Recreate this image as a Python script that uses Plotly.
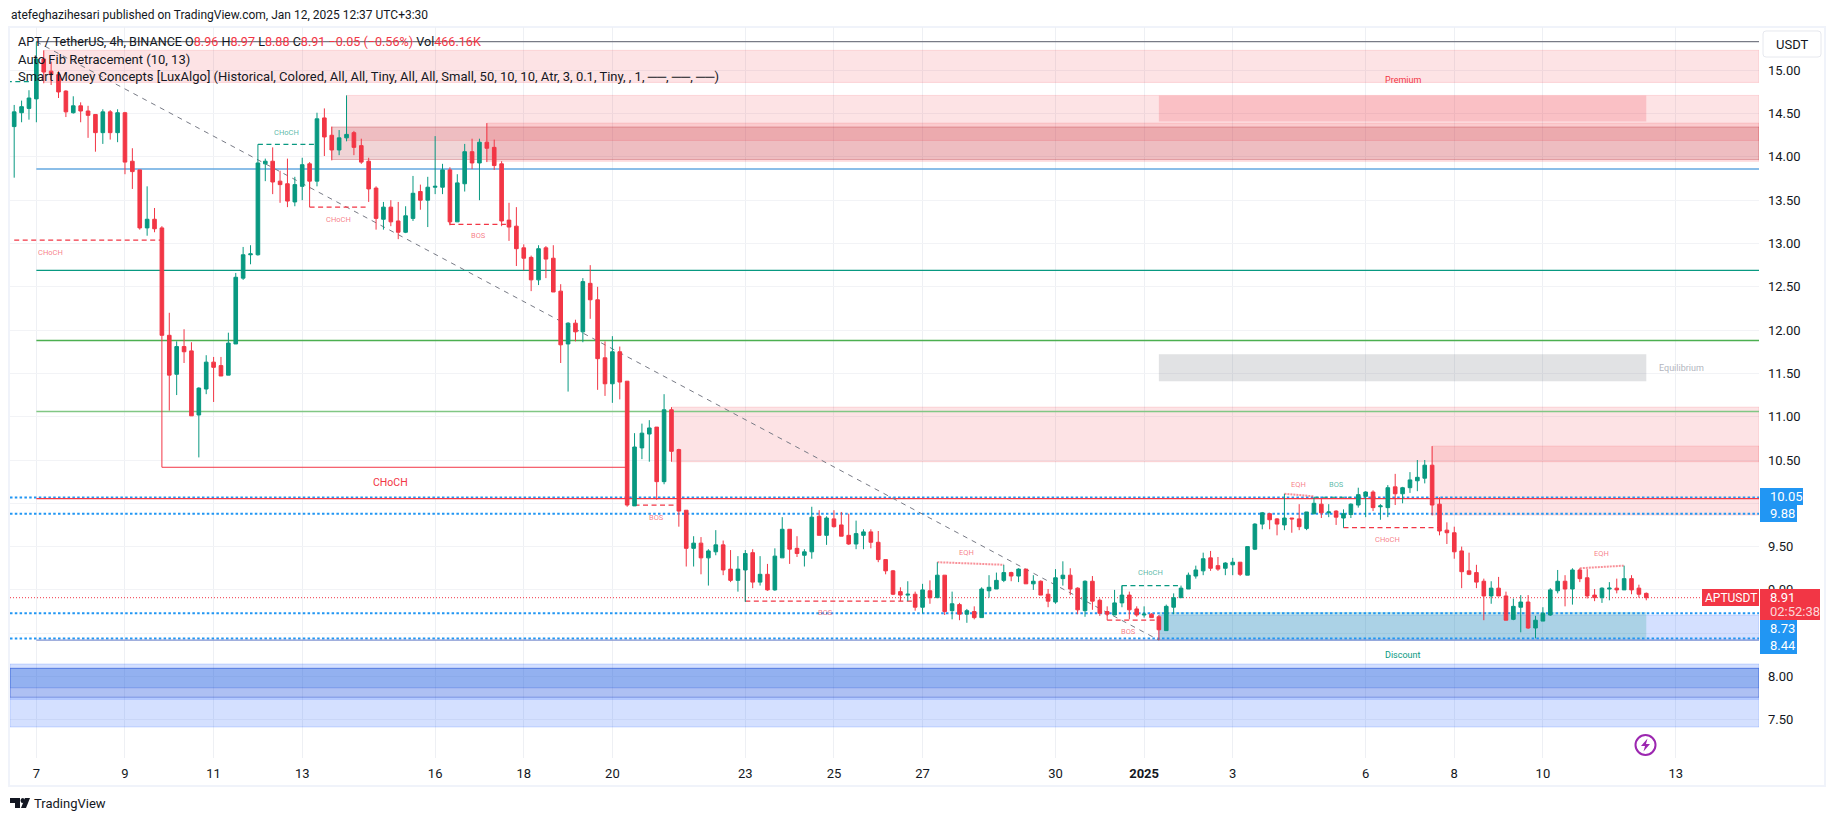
import pandas as pd
import plotly.graph_objects as go

opens = [14.35,14.51,14.56,14.67,15.13,14.99,14.95,14.76,14.51,14.59,
14.53,14.49,14.28,14.52,14.28,14.51,13.95,13.85,13.18,13.28,
13.18,11.94,11.49,11.81,11.76,11.02,11.32,11.63,11.59,11.48,
11.84,12.60,12.87,12.87,13.92,13.95,13.72,13.69,13.48,13.66,
13.92,13.72,14.45,14.25,14.08,14.22,14.28,14.13,13.95,13.64,
13.28,13.42,13.26,13.13,13.29,13.60,13.50,13.65,13.65,13.85,
13.25,13.69,14.06,13.93,14.17,14.11,13.92,13.27,13.20,12.95,
12.84,12.58,12.95,12.83,12.45,11.84,12.08,11.98,12.54,12.35,
11.68,11.38,11.75,11.41,9.97,10.64,10.80,10.88,10.25,11.08,
10.62,9.92,9.48,9.54,9.37,9.44,9.52,9.24,9.11,9.23,
9.43,9.09,9.18,9.00,9.37,9.70,9.48,9.40,9.44,9.85,
9.63,9.82,9.75,9.63,9.53,9.63,9.67,9.55,9.35,9.22,
8.98,8.94,8.95,8.80,8.99,8.91,9.17,8.76,8.83,8.72,
8.75,8.68,8.99,9.01,9.11,9.20,9.16,9.24,9.07,9.10,
8.95,8.86,9.13,9.17,9.02,8.76,9.10,8.88,8.75,8.71,
8.85,8.94,8.78,8.71,8.72,8.69,8.53,8.80,8.91,9.01,
9.16,9.22,9.37,9.28,9.25,9.29,9.32,9.17,9.47,9.76,
9.88,9.82,9.75,9.83,9.82,9.71,9.88,9.99,9.89,9.91,
9.83,9.87,9.98,10.08,10.13,9.96,9.95,10.19,10.11,10.18,
10.26,10.29,10.44,9.99,9.69,9.66,9.45,9.22,9.20,9.10,
8.93,9.02,8.93,8.66,8.80,8.86,8.56,8.64,8.71,8.99,
9.10,9.01,9.23,9.14,8.94,8.91,9.01,9.02,9.00,9.13,
9.02,8.96]

highs = [14.60,14.65,14.77,15.33,15.23,15.10,14.99,14.77,14.70,14.63,
14.59,14.49,14.55,14.54,14.55,14.52,14.10,13.85,13.66,13.41,
13.20,12.20,11.87,12.01,11.86,11.34,11.71,11.69,11.69,11.97,
12.66,12.96,12.98,13.93,13.98,14.11,13.84,13.98,13.77,13.99,
13.94,14.51,14.56,14.35,14.31,14.69,14.30,14.21,13.99,13.66,
13.48,13.50,13.48,13.43,13.78,13.68,13.77,14.24,13.92,13.88,
13.80,14.15,14.21,14.21,14.39,14.20,13.95,13.47,13.42,12.99,
12.86,12.98,12.97,12.98,12.53,12.09,12.12,12.60,12.75,12.50,
11.87,11.93,11.81,11.41,10.81,10.92,10.96,10.88,11.26,11.11,
10.63,9.92,9.62,9.61,9.47,9.69,9.57,9.46,9.39,9.46,
9.47,9.39,9.30,9.48,9.84,9.70,9.62,9.47,9.96,9.92,
9.85,9.92,9.90,9.88,9.80,9.70,9.70,9.68,9.35,9.23,
9.03,9.10,8.98,9.07,9.11,9.32,9.17,8.98,8.85,8.78,
8.81,9.03,9.17,9.20,9.29,9.21,9.25,9.24,9.17,9.11,
9.01,9.24,9.33,9.25,9.03,9.11,9.16,8.90,8.81,9.00,
9.05,8.98,8.81,8.81,8.73,8.71,8.83,8.96,9.05,9.20,
9.28,9.43,9.45,9.38,9.32,9.37,9.32,9.50,9.77,9.90,
9.89,9.83,10.11,9.83,9.99,9.90,10.07,10.05,9.99,9.92,
9.93,10.00,10.18,10.14,10.15,9.99,10.21,10.34,10.19,10.36,
10.50,10.50,10.66,10.07,9.78,9.73,9.50,9.43,9.29,9.13,
9.10,9.15,8.98,8.90,8.94,8.94,8.70,8.80,9.02,9.23,
9.17,9.25,9.25,9.24,9.01,9.03,9.09,9.13,9.28,9.17,
9.06,8.97]

lows = [13.76,14.40,14.43,14.40,14.85,14.83,14.68,14.46,14.50,14.40,
14.22,14.06,14.15,14.20,14.17,13.80,13.63,13.16,13.09,13.13,
11.94,11.07,11.25,11.62,11.01,10.53,11.26,11.17,11.47,11.48,
11.84,12.58,12.76,12.86,13.72,13.57,13.47,13.42,13.43,13.50,
13.62,13.66,14.01,13.96,14.02,14.18,14.02,13.92,13.48,13.16,
13.16,13.20,13.05,13.12,13.26,13.39,13.19,13.57,13.57,13.21,
13.25,13.60,13.86,13.50,13.94,13.85,13.20,13.03,12.74,12.69,
12.45,12.52,12.60,12.44,11.62,11.29,11.87,11.86,12.13,11.31,
11.24,11.16,11.20,9.96,9.97,10.51,10.48,10.04,10.22,10.48,
9.73,9.27,9.27,9.18,9.05,9.40,9.17,9.09,8.98,8.86,
9.02,9.05,8.99,8.99,9.37,9.30,9.38,9.27,9.36,9.63,
9.52,9.72,9.62,9.52,9.47,9.47,9.48,9.32,9.18,8.94,
8.87,8.87,8.76,8.73,8.84,8.91,8.71,8.66,8.65,8.62,
8.66,8.68,8.91,9.01,9.09,9.10,9.09,9.07,9.00,8.94,
8.80,8.84,9.05,8.94,8.72,8.69,8.77,8.70,8.70,8.71,
8.80,8.66,8.69,8.68,8.68,8.42,8.53,8.72,8.91,9.01,
9.13,9.17,9.22,9.22,9.17,9.17,9.16,9.17,9.46,9.70,
9.70,9.63,9.69,9.66,9.69,9.69,9.87,9.83,9.84,9.75,
9.72,9.83,9.95,9.84,9.91,9.81,9.84,9.98,10.00,10.12,
10.14,10.23,9.86,9.63,9.53,9.36,9.02,9.17,9.02,8.65,
8.84,8.93,8.65,8.65,8.51,8.55,8.44,8.64,8.70,8.96,
8.81,8.83,9.09,8.90,8.87,8.85,8.88,8.96,9.00,8.95,
8.91,8.88]

closes = [14.52,14.58,14.68,15.13,14.98,14.95,14.75,14.52,14.59,14.53,
14.48,14.28,14.52,14.28,14.51,13.94,13.83,13.18,13.28,13.17,
11.94,11.48,11.81,11.75,11.01,11.33,11.63,11.57,11.47,11.85,
12.61,12.87,12.88,13.93,13.95,13.71,13.68,13.49,13.68,13.91,
13.72,14.44,14.23,14.08,14.22,14.26,14.11,13.94,13.63,13.29,
13.42,13.25,13.13,13.32,13.58,13.50,13.65,13.66,13.85,13.25,
13.70,14.06,13.93,14.17,14.10,13.90,13.26,13.19,12.94,12.83,
12.58,12.94,12.82,12.44,11.83,12.08,11.98,12.56,12.35,11.67,
11.38,11.75,11.40,9.98,10.65,10.81,10.87,10.25,11.08,10.60,
9.91,9.48,9.54,9.37,9.45,9.52,9.23,9.11,9.24,9.42,
9.09,9.18,9.00,9.39,9.70,9.47,9.42,9.44,9.84,9.63,
9.83,9.73,9.62,9.53,9.65,9.67,9.55,9.35,9.22,8.95,
8.94,8.95,8.80,9.00,8.91,9.17,8.75,8.84,8.72,8.76,
8.68,9.01,9.03,9.11,9.20,9.16,9.24,9.07,9.10,8.94,
8.87,9.14,9.17,9.01,8.77,9.10,8.87,8.73,8.72,8.85,
8.94,8.77,8.71,8.72,8.68,8.54,8.81,8.91,9.02,9.17,
9.23,9.36,9.25,9.24,9.31,9.32,9.18,9.50,9.76,9.89,
9.81,9.76,9.83,9.82,9.73,9.90,10.00,9.89,9.90,9.84,
9.88,9.99,10.10,10.13,9.95,9.97,10.18,10.11,10.18,10.27,
10.30,10.44,9.98,9.68,9.66,9.44,9.21,9.18,9.09,8.93,
9.02,8.93,8.65,8.81,8.86,8.56,8.65,8.73,9.00,9.10,
9.01,9.23,9.13,8.93,8.91,9.02,9.02,9.00,9.13,9.00,
8.95,8.91]

price_ticks = [7.5,8.0,8.5,9.0,9.5,10.0,10.5,11.0,11.5,12.0,12.5,13.0,13.5,14.0,14.5,15.0]
price_labels = ["7.50","8.00","","9.00","9.50","","10.50","11.00","11.50","12.00","12.50","13.00","13.50","14.00","14.50","15.00"]
date_ticks = ["2024-12-07","2024-12-09","2024-12-11","2024-12-13","2024-12-16","2024-12-18","2024-12-20",
              "2024-12-23","2024-12-25","2024-12-27","2024-12-30","2025-01-01","2025-01-03","2025-01-06",
              "2025-01-08","2025-01-10","2025-01-13"]
date_labels = ["7","9","11","13","16","18","20","23","25","27","30","<b>2025</b>","3","6","8","10","13"]

# Auto Fib Retracement levels
fib_levels = [15.33, 13.86, 12.69, 11.88, 11.06, 8.42, 10.055]
fib_colors = ["#787b86", "#64a8e0", "#089981", "#4caf50", "#81c784", "#8294d2", "#f23645"]
fib_start_bar = 3
fib_diag_bars = [3, 155]
fib_diag_prices = [15.33, 8.42]

# dotted price levels
level_prices = [10.068, 9.88, 8.73, 8.44]
level_labels = ["10.05", "9.88", "8.73", "8.44"]
last_price = 8.91
last_symbol = "APTUSDT"
countdown = "02:52:38"

# zones: start bar, top, bottom
pink_start = [4, 45, 64, 89, 192]
pink_top = [15.23, 14.71, 14.39, 11.11, 10.66]
pink_bottom = [14.86, 14.19, 13.95, 10.48, 9.865]
dusky_start = 43
dusky_top = 14.345
dusky_bottom = 13.97
swing_start = 155
swing_end = 221
premium_box = [14.71, 14.41]
equilibrium_box = [11.72, 11.41]
discount_box = [8.745, 8.42]
discount_blue = [8.71, 8.42]
blue_tops = [8.144, 7.74]
blue_bottoms = [7.74, 7.417]
blue_strong = [8.094, 7.87]
blue_medium = [8.094, 7.76]

# structure lines: bar0, bar1, price0, price1
dash_red = [(0, 20, 13.04, 13.04), (40, 48, 13.42, 13.42), (59, 67, 13.22, 13.22), (84, 90, 9.98, 9.98),
            (99, 122, 8.87, 8.87), (148, 155, 8.65, 8.65), (180, 193, 9.72, 9.72)]
dash_green = [(-1, 2, 14.87, 14.87), (33, 41, 14.145, 14.145), (150, 158, 9.05, 9.05), (176, 181, 10.07, 10.07)]
solid_red = [(20, 83, 10.416, 10.416), (20, 20, 11.94, 10.416), (40, 40, 13.72, 13.42), (99, 99, 9.23, 8.87),
             (148, 148, 8.72, 8.65), (59, 59, 13.25, 13.22)]
solid_green = [(33, 33, 13.93, 14.145), (150, 150, 8.94, 9.05), (180, 180, 9.83, 9.72)]
dotted_eqh = [(125, 134, 9.32, 9.29), (172, 176, 10.11, 10.08), (212, 218, 9.25, 9.28)]

small_labels = ["CHoCH", "CHoCH", "CHoCH", "BOS", "BOS", "BOS", "EQH", "BOS", "CHoCH", "EQH", "BOS", "CHoCH", "EQH"]
small_bars = [4.9, 36.9, 43.9, 62.9, 87, 109.9, 128.9, 150.9, 153.8, 173.9, 179, 186, 214.9]
small_prices = [12.90, 14.28, 13.28, 13.095, 9.838, 8.741, 9.434, 8.517, 9.199, 10.219, 10.219, 9.584, 9.418]
small_up = [False, True, False, False, False, False, False, False, True, False, True, False, False]

RED = "#f23645"
GREEN = "#089981"
BLUE = "#2196f3"
W, H = 1835, 821
PL, PR, PT, PB = 10, 1759, 27, 758
BAR0_X, BAR_W = 14.2, 7.385

bar_times = pd.date_range("2024-12-06 12:00", periods=len(closes), freq="4h")


def bt(i):
    return bar_times[0] + pd.Timedelta(hours=4 * i)


def px(x):
    return (x - PL) / (PR - PL)


def py(y):
    return (PB - y) / (PB - PT)


x_left = bt((PL - BAR0_X) / BAR_W)
x_right = bt((PR - BAR0_X) / BAR_W)

shapes = []
annotations = []
DASH = "5px,3.5px"
DOTS = "2.5px,2.3px"


def rect(x0, x1, top, bottom, fill, border=None):
    shapes.append(dict(type="rect", layer="between", xref="x", yref="y", x0=x0, x1=x1, y0=bottom, y1=top,
                       fillcolor=fill, line=dict(color=border or "rgba(0,0,0,0)", width=1 if border else 0)))


def line(x0, x1, y0, y1, color, width=1, dash="solid"):
    shapes.append(dict(type="line", layer="between", xref="x", yref="y", x0=x0, x1=x1, y0=y0, y1=y1,
                       line=dict(color=color, width=width, dash=dash)))


def badge(x0, x1, y0, y1, fill):
    shapes.append(dict(type="rect", layer="above", xref="paper", yref="paper", x0=px(x0), x1=px(x1), y0=py(y1), y1=py(y0),
                       fillcolor=fill, line=dict(width=0)))


PINK = "rgba(242,54,69,0.14)"
PINK_B = "rgba(242,54,69,0.16)"
# bottom blue zones
for t, b in zip(blue_tops, blue_bottoms):
    rect(x_left, x_right, t, b, "rgba(41,98,255,0.2)", "rgba(41,98,255,0.2)")
rect(x_left, x_right, blue_medium[0], blue_medium[1], "rgba(27,65,193,0.2)", "rgba(41,82,210,0.5)")
rect(x_left, x_right, blue_strong[0], blue_strong[1], "rgba(40,118,231,0.2)", "rgba(60,100,220,0.35)")
# pink zones
for s, t, b in zip(pink_start, pink_top, pink_bottom):
    rect(bt(s), x_right, t, b, PINK, PINK_B)
rect(bt(dusky_start), x_right, dusky_top, dusky_bottom, "rgba(178,40,51,0.2)", "rgba(178,40,51,0.3)")
# swing boxes
rect(bt(swing_start), bt(swing_end), premium_box[0], premium_box[1], "rgba(242,54,69,0.2)")
rect(bt(swing_start), bt(swing_end), equilibrium_box[0], equilibrium_box[1], "rgba(120,123,134,0.22)")
rect(bt(swing_start), x_right, discount_blue[0], discount_blue[1], "rgba(41,98,255,0.2)", "rgba(41,98,255,0.2)")
rect(bt(swing_start), bt(swing_end), discount_box[0], discount_box[1], "rgba(8,153,129,0.2)")

# dotted levels
for lv in level_prices:
    line(x_left, x_right, lv, lv, BLUE, 2, DOTS)
line(x_left, bt((1702 - BAR0_X) / BAR_W), last_price, last_price, RED, 1, "1px,2px")

# fib levels
for lv, c in zip(fib_levels, fib_colors):
    line(bt(fib_start_bar), x_right, lv, lv, c, 1.3)
line(bt(fib_diag_bars[0]), bt(fib_diag_bars[1]), fib_diag_prices[0], fib_diag_prices[1], "#787b86", 1, "5px,5px")
line(bt(45), bt(45), 14.26, pink_top[1], GREEN, 1)

for a, b, p, q in dash_red:
    line(bt(a), bt(b), p, q, RED, 1.2, DASH)
for a, b, p, q in dash_green:
    line(bt(a), bt(b), p, q, GREEN, 1.2, DASH)
for a, b, p, q in solid_red:
    line(bt(a), bt(b), p, q, RED, 1)
for a, b, p, q in solid_green:
    line(bt(a), bt(b), p, q, GREEN, 1)
for a, b, p, q in dotted_eqh:
    line(bt(a), bt(b), p, q, "rgba(242,54,69,0.55)", 2, "2px,1px")

FONT = "Roboto"


def data_text(i, p, text, color, size):
    annotations.append(dict(xref="x", yref="y", x=bt(i), y=p, text=text, showarrow=False, xanchor="center",
                            yanchor="middle", font=dict(family=FONT, size=size, color=color)))


for lab, i, p, up in zip(small_labels, small_bars, small_prices, small_up):
    data_text(i, p, lab, "rgba(8,153,129,0.7)" if up else "rgba(242,54,69,0.65)", 7.5)
data_text(50.9, 10.243, "CHoCH", RED, 10.5)
data_text(188, 14.89, "Premium", RED, 9)
data_text(225.8, 11.566, "Equilibrium", "#b2b5be", 9)
data_text(188, 8.25, "Discount", GREEN, 9)


def page_text(x, y, text, size=13, color="#131722", anchor="left", **kw):
    annotations.append(dict(xref="paper", yref="paper", x=px(x), y=py(y), text=text, showarrow=False,
                            xanchor=anchor, yanchor="middle", align="left",
                            font=dict(family=FONT, size=size, color=color), **kw))


def r(t):
    return f'<span style="color:{RED}">{t}</span>'


page_text(9, 15, "atefeghazihesari published on TradingView.com, Jan 12, 2025 12:37 UTC+3:30", 12)
page_text(16, 41, "APT / TetherUS, 4h, BINANCE O" + r("8.96") + " H" + r("8.97") + " L" + r("8.88") + " C" + r("8.91")
          + " " + r("\u22120.05 (\u22120.56%)") + " Vol" + r("466.16K"), 12.6)
page_text(16, 59, "Auto Fib Retracement (10, 13)", 13)
page_text(16, 76, "Smart Money Concepts [LuxAlgo] (Historical, Colored, All, All, Tiny, All, All, Small, 50, 10, 10, Atr, 3, 0.1, Tiny, , 1, \u2500\u2500, \u2500\u2500, \u2500\u2500)", 13)

# price axis badges
badge(1760, 1803, 488, 505, BLUE)
badge(1760, 1797, 505, 522, BLUE)
badge(1760, 1797, 620, 654, BLUE)
badge(1702, 1759, 589, 606, RED)
badge(1760, 1820, 589, 620, RED)
for lab, y in zip(level_labels, [496.5, 513.5, 628.7, 645.7]):
    page_text(1768, y, lab, 13, "#ffffff")
page_text(1730.5, 597.7, last_symbol, 12, "#ffffff", "center")
page_text(1768, 597.7, f"{last_price:.2f}", 13, "#ffffff")
page_text(1768, 611.7, countdown, 13, "#fcd5d8")

page_text(1792, 44, "USDT", 13, anchor="center")
page_text(32, 803, "TradingView", 13)


def pts_path(points):
    return "M" + " L".join(f"{px(a):.5f},{py(b):.5f}" for a, b in points) + " Z"


def rounded(x0, y0, x1, y1, c):
    return (f"M{px(x0+c):.5f},{py(y0):.5f} L{px(x1-c):.5f},{py(y0):.5f} Q{px(x1):.5f},{py(y0):.5f} {px(x1):.5f},{py(y0+c):.5f} "
            f"L{px(x1):.5f},{py(y1-c):.5f} Q{px(x1):.5f},{py(y1):.5f} {px(x1-c):.5f},{py(y1):.5f} "
            f"L{px(x0+c):.5f},{py(y1):.5f} Q{px(x0):.5f},{py(y1):.5f} {px(x0):.5f},{py(y1-c):.5f} "
            f"L{px(x0):.5f},{py(y0+c):.5f} Q{px(x0):.5f},{py(y0):.5f} {px(x0+c):.5f},{py(y0):.5f} Z")


shapes.append(dict(type="path", xref="paper", yref="paper", path=rounded(1763, 31, 1821, 57, 3),
                   fillcolor="#ffffff", line=dict(color="#e6e8ee", width=1)))

# lightning badge
shapes.append(dict(type="circle", xref="paper", yref="paper", x0=px(1635.5), x1=px(1655.5), y0=py(755), y1=py(735),
                   line=dict(color="#9c27b0", width=2)))
shapes.append(dict(type="path", xref="paper", yref="paper",
                   path=pts_path([(1647.5, 738.5), (1641, 746), (1645, 746), (1643.5, 751.5), (1650, 744), (1646, 744)]),
                   fillcolor="#9c27b0", line=dict(width=0)))
# outer frame
shapes.append(dict(type="rect", xref="paper", yref="paper", x0=px(9), x1=px(1825), y0=py(786), y1=py(27),
                   line=dict(color="#f0f3fa", width=2), layer="below"))

for poly in ([(10, 798), (20, 798), (20, 808), (15, 808), (15, 803), (10, 803)],
             [(25, 798), (30, 798), (26, 808), (21, 808)]):
    shapes.append(dict(type="path", xref="paper", yref="paper", path=pts_path(poly), fillcolor="#131722",
                       line=dict(width=0)))
shapes.append(dict(type="circle", xref="paper", yref="paper", x0=px(20.5), x1=px(25), y0=py(803), y1=py(798),
                   fillcolor="#131722", line=dict(width=0)))

fig = go.Figure(go.Candlestick(
    x=bar_times, open=opens, high=highs, low=lows, close=closes,
    increasing=dict(line=dict(color=GREEN, width=1), fillcolor=GREEN),
    decreasing=dict(line=dict(color=RED, width=1), fillcolor=RED),
    whiskerwidth=0, showlegend=False, hoverinfo="skip"))

fig.update_layout(
    width=W, height=H, paper_bgcolor="#ffffff", plot_bgcolor="#ffffff", showlegend=False,
    margin=dict(l=PL, r=W - PR, t=PT, b=H - PB, pad=0),
    font=dict(family=FONT, size=13, color="#131722"),
    shapes=shapes, annotations=annotations, boxgap=0.3,
    xaxis=dict(type="date", range=[x_left, x_right], rangeslider=dict(visible=False), tickmode="array",
               tickvals=date_ticks, ticktext=date_labels, showgrid=True, gridcolor="#eef0f4", gridwidth=1,
               zeroline=False, ticks="", showline=False, tickfont=dict(family=FONT, size=13, color="#131722"),
               ticklabelstandoff=6),
    yaxis=dict(side="right", range=[15 - (PB - 70.3) / 86.6, 15 + (70.3 - PT) / 86.6], tickmode="array",
               tickvals=price_ticks, ticktext=price_labels, showgrid=True,
               gridcolor="#f2f3f6", gridwidth=1, zeroline=False, ticks="", showline=False,
               tickfont=dict(family=FONT, size=13, color="#131722"), ticklabelstandoff=8),
)

fig.write_html("out.html", config={"displayModeBar": False},
               post_script="document.body.style.margin='0';document.body.style.overflow='hidden';")
